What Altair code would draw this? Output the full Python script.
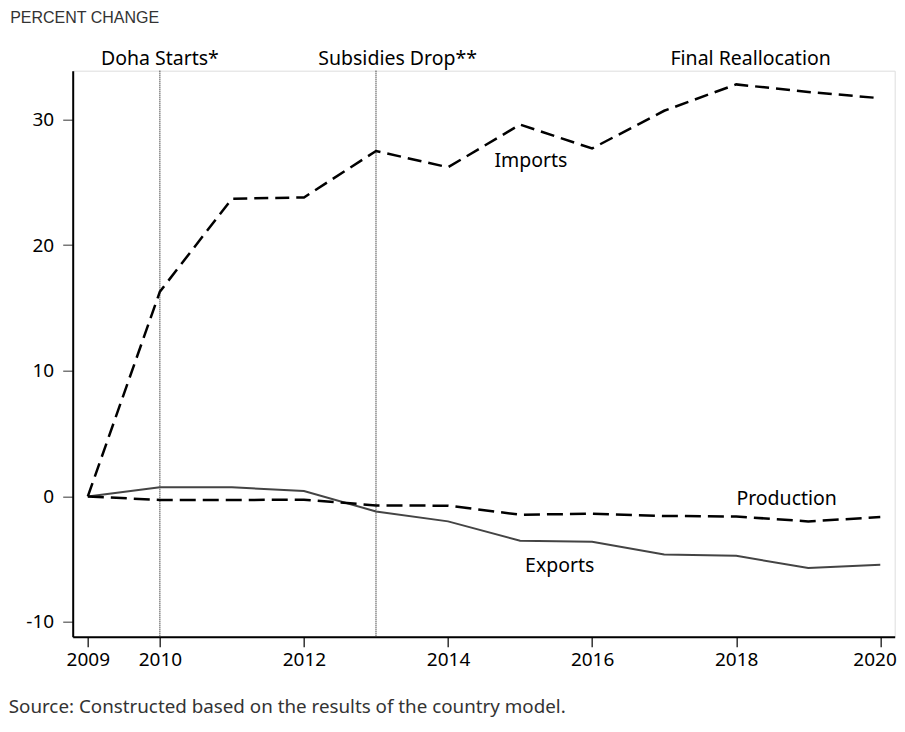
import altair as alt
import pandas as pd

# ---- data ----
years = list(range(2009, 2021))
imports = [0, 16.3, 23.7, 23.8, 27.5, 26.2, 29.6, 27.7, 30.7, 32.8, 32.2, 31.7]
production = [0, -0.29, -0.29, -0.26, -0.72, -0.74, -1.46, -1.38, -1.56, -1.60, -1.99, -1.65]
exports = [0, 0.72, 0.72, 0.43, -1.20, -1.99, -3.53, -3.61, -4.63, -4.73, -5.71, -5.45]

event_years = [2010, 2013]
event_labels = ["Doha Starts*", "Subsidies Drop**", "Final Reallocation"]
event_label_x = [2010.0, 2013.3, 2018.2]

series_labels = ["Imports", "Production", "Exports"]
series_label_x = [2015.15, 2018.7, 2015.55]
series_label_y = [26.25, -0.68, -6.0]

x_ticks = [2009, 2010, 2012, 2014, 2016, 2018, 2020]
y_ticks = [-10, 0, 10, 20, 30]

y_title = "PERCENT CHANGE"
source_note = "Source: Constructed based on the results of the country model."

W, H = 822, 566
FONT = "Noto Sans"

df_imp = pd.DataFrame({"year": years, "value": imports})
df_prod = pd.DataFrame({"year": years, "value": production})
df_exp = pd.DataFrame({"year": years, "value": exports})
df_events = pd.DataFrame({"year": event_years})
df_event_labels = pd.DataFrame({"x": event_label_x, "label": event_labels})
df_series_labels = pd.DataFrame({"x": series_label_x, "y": series_label_y, "label": series_labels})

xscale = alt.Scale(domain=[2008.79, 2020.2], nice=False, zero=False)
yscale = alt.Scale(domain=[-11.17, 33.89], nice=False, zero=False)

xaxis = alt.Axis(values=x_ticks, format="d", title=None, grid=False,
                 labelFont=FONT, labelFontSize=19, labelColor="black",
                 tickSize=10, tickColor="#333", tickWidth=1.5,
                 domainColor="black", domainWidth=2, labelPadding=4,
                 labelFlush=14.8, labelFlushOffset=16)
yaxis = alt.Axis(values=y_ticks, title=None, grid=False,
                 labelExpr="datum.value + ''",
                 labelFont=FONT, labelFontSize=19, labelColor="black",
                 tickSize=10, tickColor="#555", tickWidth=1.2,
                 domainColor="black", domainWidth=2, labelPadding=9)

X = alt.X("year:Q", scale=xscale, axis=xaxis)
Y = alt.Y("value:Q", scale=yscale, axis=yaxis)

imp_line = alt.Chart(df_imp).mark_line(color="black", strokeWidth=2.5, strokeDash=[14, 7]).encode(x=X, y=Y)
prod_line = alt.Chart(df_prod).mark_line(color="black", strokeWidth=2.5, strokeDash=[16, 7]).encode(x=X, y=Y)
exp_line = alt.Chart(df_exp).mark_line(color="#444", strokeWidth=2).encode(x=X, y=Y)

event_rules = alt.Chart(df_events).mark_rule(color="black", strokeWidth=1, strokeDash=[1, 1]).encode(
    x=alt.X("year:Q", scale=xscale), y=alt.value(0), y2=alt.value(H))

event_text = alt.Chart(df_event_labels).mark_text(
    font=FONT, fontSize=19.5, color="black", align="center", baseline="alphabetic"
).encode(x=alt.X("x:Q", scale=xscale), y=alt.value(-6), text="label:N")

series_text = alt.Chart(df_series_labels).mark_text(
    font=FONT, fontSize=19.5, color="black", align="center", baseline="alphabetic"
).encode(x=alt.X("x:Q", scale=xscale), y=alt.Y("y:Q", scale=yscale), text="label:N")

title_text = alt.Chart(pd.DataFrame({"t": [y_title]})).mark_text(
    font="Liberation Sans", fontSize=16, color="#333", align="left", baseline="alphabetic"
).encode(x=alt.value(-62.5), y=alt.value(-48.0), text="t:N")

source_text = alt.Chart(pd.DataFrame({"t": [source_note]})).mark_text(
    font=FONT, fontSize=18.8, color="#333", align="left", baseline="alphabetic"
).encode(x=alt.value(-64.0), y=alt.value(642.6), text="t:N")

chart = alt.layer(
    event_rules, exp_line, prod_line, imp_line, event_text, series_text, title_text, source_text
).properties(
    width=W, height=H,
    autosize=alt.AutoSizeParams(type="none"),
    padding={"left": 64.7, "top": 62.7, "right": 2.3, "bottom": 86},
).configure_view(
    stroke="black", strokeWidth=1.5
).configure(background="white")

chart.save("out.html", embed_options={"renderer": "svg", "actions": False})
